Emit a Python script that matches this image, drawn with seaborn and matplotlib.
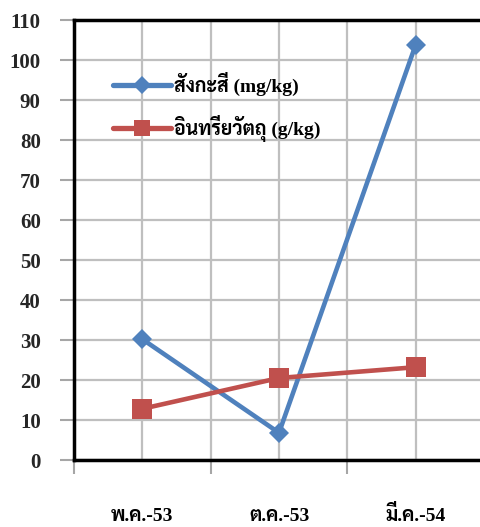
import matplotlib
matplotlib.use("Agg")
import matplotlib.pyplot as plt
import numpy as np
import pandas as pd
import seaborn as sns

# Sampling dates (Thai month abbreviations, Buddhist-era year)
months = ["พ.ค.-53", "ต.ค.-53", "มี.ค.-54"]
zinc = [30.2, 6.8, 103.8]           # สังกะสี, mg/kg
organic = [12.8, 20.5, 23.2]        # อินทรียวัตถุ, g/kg
series_names = ["สังกะสี (mg/kg)", "อินทรียวัตถุ (g/kg)"]
y_ticks = list(range(0, 111, 10))

sns.set_theme(style="white")
plt.rcParams["font.family"] = ["Liberation Serif", "Sarabun"]
plt.rcParams["font.weight"] = "bold"

df = pd.DataFrame({
    "month": months * 2,
    "x": list(range(len(months))) * 2,
    "value": zinc + organic,
    "series": [series_names[0]] * len(zinc) + [series_names[1]] * len(organic),
})

fig = plt.figure(figsize=(4.8, 5.27), dpi=100)
W, H = 480, 527
ax = fig.add_axes([74 / W, 1 - 460 / H, 410 / W, 440 / H])

sns.lineplot(
    data=df, x="x", y="value", hue="series", style="series",
    markers={series_names[0]: "D", series_names[1]: "s"},
    dashes=False,
    palette={series_names[0]: "#4F81BD", series_names[1]: "#C0504D"},
    linewidth=3.3, markeredgewidth=0,
    sort=False, ax=ax, zorder=5,
)
# marker sizes per series
for line in ax.lines:
    if line.get_marker() == "D":
        line.set_markersize(10.5)
    elif line.get_marker() == "s":
        line.set_markersize(14)

ax.set_xlim(-0.5, 2.5)
ax.set_ylim(0, 110)

# category labels at centres, tick marks at category boundaries
ax.set_xticks(range(len(months)))
ax.set_xticklabels(months, fontsize=14, fontweight="bold")
ax.set_xticks(np.arange(-0.5, len(months), 1.0), minor=True)
ax.tick_params(axis="x", which="major", length=0, pad=44, colors="black")
ax.tick_params(axis="x", which="minor", length=10, width=1.5, color="#A6A6A6",
               bottom=True, direction="out")
for lab in ax.get_xticklabels():
    lab.set_verticalalignment("baseline")

ax.set_yticks(y_ticks)
ax.set_yticklabels([str(v) for v in y_ticks], fontsize=15, fontweight="bold")
ax.tick_params(axis="y", which="major", length=10, width=1.5, color="#A6A6A6",
               pad=14, left=True, direction="out")

ax.grid(True, which="major", axis="y", color="#BFBFBF", lw=1.6)
ax.grid(True, which="both", axis="x", color="#BFBFBF", lw=1.6)
ax.set_axisbelow(True)

for side in ["left", "top", "bottom"]:
    ax.spines[side].set_color("black")
    ax.spines[side].set_linewidth(2.5)
    ax.spines[side].set_visible(True)
ax.spines["right"].set_visible(False)

ax.set_xlabel("")
ax.set_ylabel("")

leg = ax.legend(
    loc="upper left", bbox_to_anchor=(0.095, 0.883), frameon=False,
    prop={"size": 14, "weight": "bold"}, handlelength=3.0,
    handletextpad=0.15, labelspacing=0.98, borderpad=0, borderaxespad=0,
)
for t in leg.get_texts():
    t.set_color("black")
for h in leg.legend_handles:
    h.set_linewidth(3.8)
    h.set_markersize(9 if h.get_marker() == "D" else 12)

fig.savefig("out.png", dpi=100)
